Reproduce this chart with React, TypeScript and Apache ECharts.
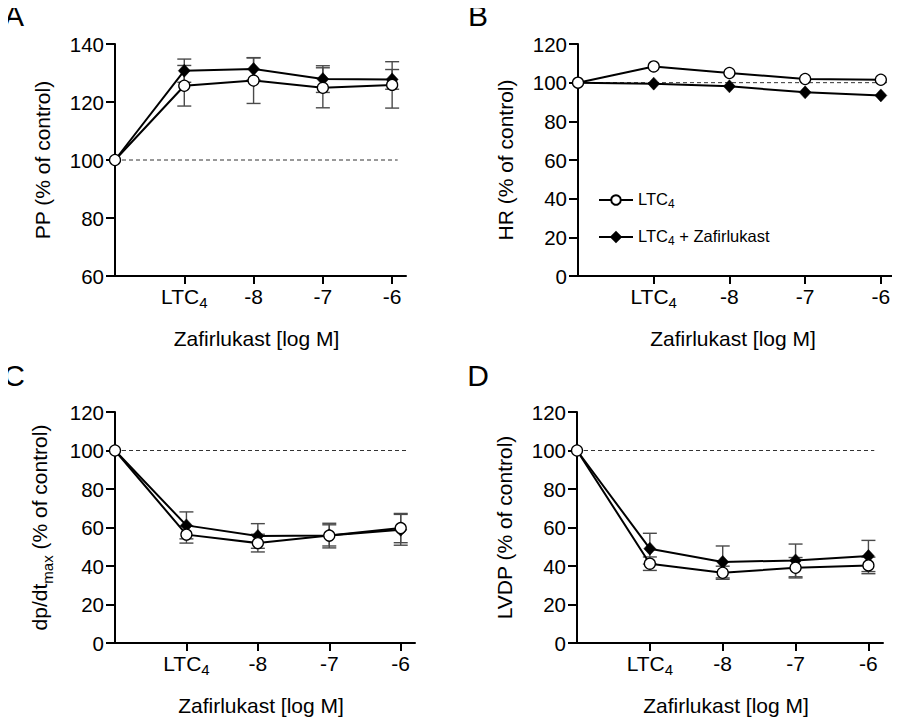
import React, { useEffect, useRef } from "react";
import * as echarts from "echarts";

// ---- data ----
const xPositions = [0, 1, 2, 3, 4]; // control, LTC4, -8, -7, -6
const xTickValues = [1, 2, 3, 4];
const xTickLabels = ["LTC4", "-8", "-7", "-6"];
const refLineX = [0, 4.08];
const refLineY = 100;

const aOpen = [100, 125.6, 127.4, 124.9, 125.9];
const aOpenErr = [0, 7.0, 7.9, 6.9, 8.0];
const aFilled = [100, 130.8, 131.4, 127.9, 127.8];
const aFilledErr = [0, 4.0, 3.8, 4.6, 3.4];

const bOpen = [100, 108.4, 105.0, 101.9, 101.5];
const bOpenErr = [0, 0, 0, 0, 0];
const bFilled = [100, 99.5, 98.1, 95.0, 93.4];
const bFilledErr = [0, 0, 0, 0, 0];

const cOpen = [100, 56.3, 51.9, 55.8, 59.7];
const cOpenErr = [0, 4.4, 4.6, 6.4, 7.6];
const cFilled = [100, 61.1, 55.6, 55.9, 58.8];
const cFilledErr = [0, 7.0, 6.4, 5.5, 8.0];

const dOpen = [100, 41.2, 36.5, 39.1, 40.3];
const dOpenErr = [0, 3.5, 3.4, 5.3, 4.3];
const dFilled = [100, 49.0, 42.1, 42.9, 45.2];
const dFilledErr = [0, 8.0, 8.3, 8.5, 8.1];

const seriesNames = ["LTC4", "LTC4 + Zafirlukast"];
const panelLetters = ["A", "B", "C", "D"];
const yTitles = [
  "{n|PP (% of control)}",
  "{n|HR (% of control)}",
  "{n|dp/dt}{s|max}{n| (% of control)}",
  "{n|LVDP (% of control)}",
];
const xTitle = "Zafirlukast [log M]";
const yRanges = [
  [60, 140],
  [0, 120],
  [0, 120],
  [0, 120],
];

// ---- layout ----
const FONT = "Liberation Sans, Arial, Helvetica, sans-serif";
const grids = [
  { left: 115, top: 44, width: 291, height: 232 },
  { left: 578, top: 44, width: 318, height: 232 },
  { left: 115, top: 412, width: 300, height: 231 },
  { left: 577, top: 412, width: 306, height: 231 },
];
// centre of each panel letter
const letterPos = [
  [14, 15],
  [478, 15],
  [14, 375],
  [478, 375],
];

const panels = [
  { open: aOpen, openErr: aOpenErr, filled: aFilled, filledErr: aFilledErr },
  { open: bOpen, openErr: bOpenErr, filled: bFilled, filledErr: bFilledErr },
  { open: cOpen, openErr: cOpenErr, filled: cFilled, filledErr: cFilledErr },
  { open: dOpen, openErr: dOpenErr, filled: dFilled, filledErr: dFilledErr },
];

function errData(mean: number[], err: number[]) {
  const out: number[][] = [];
  mean.forEach((m, i) => {
    if (err[i] > 0) out.push([xPositions[i], m - err[i], m + err[i]]);
  });
  return out;
}

const errColor = "#4a4a4a";
function renderErr(params: any, api: any) {
  const x = api.value(0);
  const lo = api.value(1);
  const hi = api.value(2);
  const pTop = api.coord([x, hi]);
  const pBot = api.coord([x, lo]);
  const hw = 7;
  const style = { stroke: errColor, lineWidth: 1.4 };
  return {
    type: "group",
    children: [
      { type: "line", shape: { x1: pTop[0], y1: pTop[1], x2: pBot[0], y2: pBot[1] }, style },
      { type: "line", shape: { x1: pTop[0] - hw, y1: pTop[1], x2: pTop[0] + hw, y2: pTop[1] }, style },
      { type: "line", shape: { x1: pBot[0] - hw, y1: pBot[1], x2: pBot[0] + hw, y2: pBot[1] }, style },
    ],
  };
}

export default function App() {
  const ref = useRef<HTMLDivElement>(null);
  useEffect(() => {
    if (!ref.current) return;
    const chart = echarts.init(ref.current, null, { renderer: "svg" });

    const xAxes = grids.map((_, i) => ({
      type: "value",
      gridIndex: i,
      min: 0,
      max: 4.2,
      splitLine: { show: false },
      axisLine: { show: true, onZero: false, lineStyle: { color: "#000", width: 2 } },
      axisTick: {
        show: true,
        customValues: xTickValues,
        length: 8,
        lineStyle: { color: "#000", width: 2 },
      },
      axisLabel: {
        customValues: xTickValues,
        margin: 10,
        color: "#000",
        formatter: (v: number) => {
          const idx = xTickValues.indexOf(v);
          const lab = idx >= 0 ? xTickLabels[idx] : "";
          if (lab === "LTC4") return "{a|LTC}{s|4}";
          return "{a|" + lab + "}";
        },
        rich: {
          a: { fontSize: 21, lineHeight: 24, verticalAlign: "top", fontFamily: FONT, color: "#000" },
          s: { fontSize: 15, lineHeight: 14, verticalAlign: "bottom", fontFamily: FONT, color: "#000" },
        },
      },
      name: xTitle,
      nameLocation: "middle",
      nameGap: 52,
      nameTextStyle: { fontSize: 21, fontFamily: FONT, color: "#000", padding: [0, 8, 0, 0] },
    }));

    const yAxes = grids.map((_, i) => ({
      type: "value",
      gridIndex: i,
      min: yRanges[i][0],
      max: yRanges[i][1],
      interval: 20,
      splitLine: { show: false },
      axisLine: { show: true, onZero: false, lineStyle: { color: "#000", width: 2 } },
      axisTick: { show: true, length: 9, lineStyle: { color: "#000", width: 2 } },
      axisLabel: { fontSize: 20.5, fontFamily: FONT, color: "#000", margin: 11 },
      name: yTitles[i],
      nameLocation: "middle",
      nameGap: i === 2 ? 60 : 57,
      nameRotate: 90,
      nameTextStyle: {
        fontFamily: FONT,
        color: "#000",
        rich: {
          n: { fontSize: 21, lineHeight: 26, verticalAlign: "top", fontFamily: FONT, color: "#000" },
          s: { fontSize: 15, lineHeight: 15, verticalAlign: "bottom", fontFamily: FONT, color: "#000" },
        },
      },
    }));

    const series: any[] = [];
    panels.forEach((p, i) => {
      series.push({
        type: "line",
        xAxisIndex: i,
        yAxisIndex: i,
        data: refLineX.map((x) => [x, refLineY]),
        symbol: "none",
        silent: true,
        lineStyle: { color: "#333", width: 1, type: [4, 3] },
        z: 1,
      });
      series.push({
        type: "custom",
        xAxisIndex: i,
        yAxisIndex: i,
        renderItem: renderErr,
        encode: { x: 0, y: [1, 2] },
        data: errData(p.filled, p.filledErr),
        z: 2,
        silent: true,
      });
      series.push({
        type: "custom",
        xAxisIndex: i,
        yAxisIndex: i,
        renderItem: renderErr,
        encode: { x: 0, y: [1, 2] },
        data: errData(p.open, p.openErr),
        z: 2,
        silent: true,
      });
      series.push({
        name: seriesNames[1],
        type: "line",
        xAxisIndex: i,
        yAxisIndex: i,
        data: p.filled.map((v, k) => [xPositions[k], v]),
        symbol: "diamond",
        symbolSize: [12, 13],
        showAllSymbol: true,
        clip: false,
        lineStyle: { color: "#000", width: 2 },
        itemStyle: { color: "#000", borderColor: "#000", borderWidth: 0.5 },
        z: 3,
      });
      series.push({
        name: seriesNames[0],
        type: "line",
        xAxisIndex: i,
        yAxisIndex: i,
        data: p.open.map((v, k) => [xPositions[k], v]),
        symbol: "circle",
        symbolSize: 11,
        showAllSymbol: true,
        clip: false,
        lineStyle: { color: "#000", width: 2 },
        itemStyle: { color: "#fff", borderColor: "#000", borderWidth: 1.3 },
        z: 4,
      });
    });

    chart.setOption({
      animation: false,
      backgroundColor: "#fff",
      textStyle: { fontFamily: FONT },
      grid: grids.map((g) => ({ ...g, containLabel: false })),
      xAxis: xAxes,
      yAxis: yAxes,
      legend: {
        data: [seriesNames[0], seriesNames[1]],
        orient: "vertical",
        left: 598,
        top: 190,
        padding: 0,
        itemWidth: 34,
        itemHeight: 12,
        itemGap: 17,
        selectedMode: false,
        formatter: (name: string) =>
          name === seriesNames[0] ? "{a|LTC}{s|4}" : "{a|LTC}{s|4}{a| + Zafirlukast}",
        textStyle: {
          color: "#000",
          rich: {
            a: { fontSize: 16.5, lineHeight: 20, verticalAlign: "top", fontFamily: FONT, color: "#000" },
            s: { fontSize: 12, lineHeight: 12, verticalAlign: "bottom", fontFamily: FONT, color: "#000" },
          },
        },
      },
      graphic: {
        elements: panelLetters.map((t, i) => ({
          type: "text",
          x: letterPos[i][0],
          y: letterPos[i][1],
          z: 100,
          style: {
            text: t,
            fontSize: 30,
            fontFamily: FONT,
            fill: "#000",
            align: "center",
            verticalAlign: "middle",
          },
        })),
      },
      series,
    });

    return () => chart.dispose();
  }, []);

  return <div ref={ref} style={{ width: 900, height: 720, marginLeft: -8, marginTop: -8 }} />;
}
